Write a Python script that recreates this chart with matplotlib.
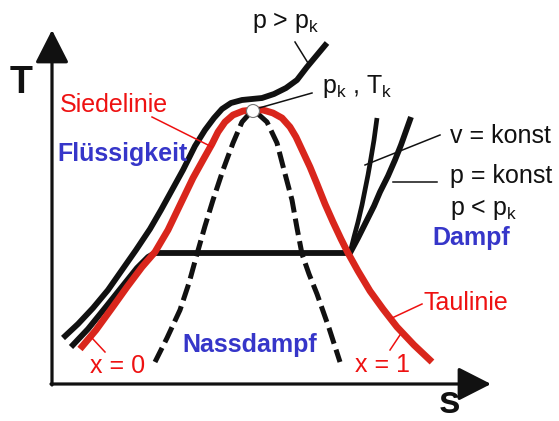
import matplotlib.pyplot as plt
import matplotlib.patheffects as pe
from matplotlib.patches import Circle

plt.rcParams['font.family'] = ['Liberation Sans', 'DejaVu Sans']
plt.rcParams['mathtext.fontset'] = 'custom'
plt.rcParams['mathtext.rm'] = 'Liberation Sans'
plt.rcParams['lines.scale_dashes'] = False

# Schematic T-s diagram, coordinates in drawing units (s to the right, T downward on screen)
W, H = 559, 421

# Saturation dome: boiling line (x = 0) and dew line (x = 1)
dome_s = [80, 96, 112, 127, 142, 155, 168, 180, 193, 203, 212, 218, 225, 233, 243, 253,
          263, 273, 282, 290, 296, 303, 310, 317, 325, 333, 341, 348, 358, 370, 383, 397, 414, 432]
dome_T = [349, 330, 308, 287, 267, 252, 230, 205, 178, 160, 144, 132, 122, 115, 111, 110,
          110, 113, 118, 127, 137, 152, 167, 184, 204, 222, 239, 253, 271, 291, 309, 327, 345, 362]

# Supercritical isobar p > pk
iso_hi_s = [63, 78, 93, 108, 122, 136, 150, 161, 172, 183, 195, 205, 214, 222, 231,
            242, 252, 262, 274, 286, 297, 307, 317, 327]
iso_hi_T = [338, 324, 308, 290, 270, 250, 229, 210, 190, 170, 146, 130, 118, 109, 103,
            100, 99, 98, 94, 88, 80, 67, 55, 43]

# Subcritical isobar p < pk: liquid part, two-phase plateau, vapour part
iso_lo_s = [71, 88, 105, 121, 137, 148, 155, 348, 350, 358, 366, 374, 380, 388,
            395, 401, 406, 411]
iso_lo_T = [347, 329, 308, 288, 268, 257, 253, 253, 253, 238, 222, 206, 192, 176,
            160, 145, 131, 117]

# Isochore v = konst in the vapour region
isochore_s = [350, 354, 358, 362, 365, 368, 371, 374, 377]
isochore_T = [253, 237, 222, 205, 190, 175, 158, 140, 118]

# Lines of constant vapour quality inside the dome
qual_left_s = [250, 242, 233, 223, 213, 205, 197, 189, 180, 167, 155]
qual_left_T = [113, 122, 143, 170, 200, 226, 254, 283, 310, 338, 362]
qual_right_s = [257, 267, 277, 284, 292, 297, 302, 309, 317, 329, 340]
qual_right_T = [113, 122, 143, 170, 200, 228, 254, 274, 294, 328, 362]

crit_point = (253, 111)

BLACK = '#111111'
RED_LINE = '#d9261c'
RED_TEXT = '#ee1111'
BLUE = '#3636c9'

fig = plt.figure(figsize=(W / 100, H / 100), dpi=100)
ax = fig.add_axes([0, 0, 1, 1])
ax.set_xlim(0, W)
ax.set_ylim(H, 0)
ax.axis('off')

# axes arrows
arrow = dict(arrowstyle='-|>,head_length=0.55,head_width=0.28', lw=2.3,
             color=BLACK, shrinkA=0, shrinkB=0, mutation_scale=37)
ax.annotate('', xy=(52, 30), xytext=(52, 385), arrowprops=arrow)
ax.annotate('', xy=(491, 384), xytext=(51, 384), arrowprops=arrow)
ax.text(10, 93, 'T', fontsize=27, fontweight='bold', color=BLACK)
ax.text(439, 413, 's', fontsize=28, fontweight='bold', color=BLACK)

# curves; the supercritical isobar keeps a thin white margin to the lines beside it
ax.plot(iso_lo_s, iso_lo_T, color=BLACK, lw=4.2, solid_capstyle='butt',
        solid_joinstyle='round', zorder=3)
ax.plot(iso_hi_s, iso_hi_T, color=BLACK, lw=4.2, solid_capstyle='butt',
        solid_joinstyle='round', zorder=3.5,
        path_effects=[pe.Stroke(linewidth=6.6, foreground='white'), pe.Normal()])
ax.plot(isochore_s, isochore_T, color=BLACK, lw=3.4, solid_capstyle='butt', zorder=3)
for qs, qt in [(qual_left_s, qual_left_T), (qual_right_s, qual_right_T)]:
    ax.plot(qs, qt, color=BLACK, lw=3.6, dashes=[12, 4.5], dash_capstyle='butt',
            dash_joinstyle='round', zorder=3)
ax.plot(dome_s, dome_T, color=RED_LINE, lw=4.9, solid_capstyle='butt',
        solid_joinstyle='round', zorder=4)

ax.add_patch(Circle(crit_point, 6.5, facecolor='white', edgecolor='#777777',
                    lw=0.8, zorder=6))

# leader lines
leaders = [
    ((295, 42), (308, 63), BLACK),
    ((312, 93), (259, 108), BLACK),
    ((152, 117), (212, 147), RED_TEXT),
    ((440, 135), (365, 165), BLACK),
    ((437, 182), (393, 182), BLACK),
    ((422, 304), (392, 318), RED_TEXT),
    ((92, 338), (105, 352), RED_TEXT),
    ((400, 335), (390, 350), RED_TEXT),
]
for (x0, y0), (x1, y1), c in leaders:
    ax.plot([x0, x1], [y0, y1], color=c, lw=1.1, zorder=5)

# labels
fs = 18
labels = [
    (252, 28, r'p > $\mathrm{p}_\mathrm{k}$', BLACK, 'normal'),
    (322, 93, r'$\mathrm{p}_\mathrm{k}$ , $\mathrm{T}_\mathrm{k}$', BLACK, 'normal'),
    (450, 143, 'v = konst', BLACK, 'normal'),
    (450, 183, 'p = konst', BLACK, 'normal'),
    (450, 215, r'p < $\mathrm{p}_\mathrm{k}$', BLACK, 'normal'),
    (432, 245, 'Dampf', BLUE, 'bold'),
    (60, 112, 'Siedelinie', RED_TEXT, 'normal'),
    (57, 161, 'Flüssigkeit', BLUE, 'bold'),
    (182, 352, 'Nassdampf', BLUE, 'bold'),
    (90, 373, 'x = 0', RED_TEXT, 'normal'),
    (423, 310, 'Taulinie', RED_TEXT, 'normal'),
    (355, 372, 'x = 1', RED_TEXT, 'normal'),
]
for x, y, txt, c, weight in labels:
    ax.text(x, y, txt, fontsize=fs, color=c, fontweight=weight, zorder=8)

fig.savefig('out.png', dpi=100)
